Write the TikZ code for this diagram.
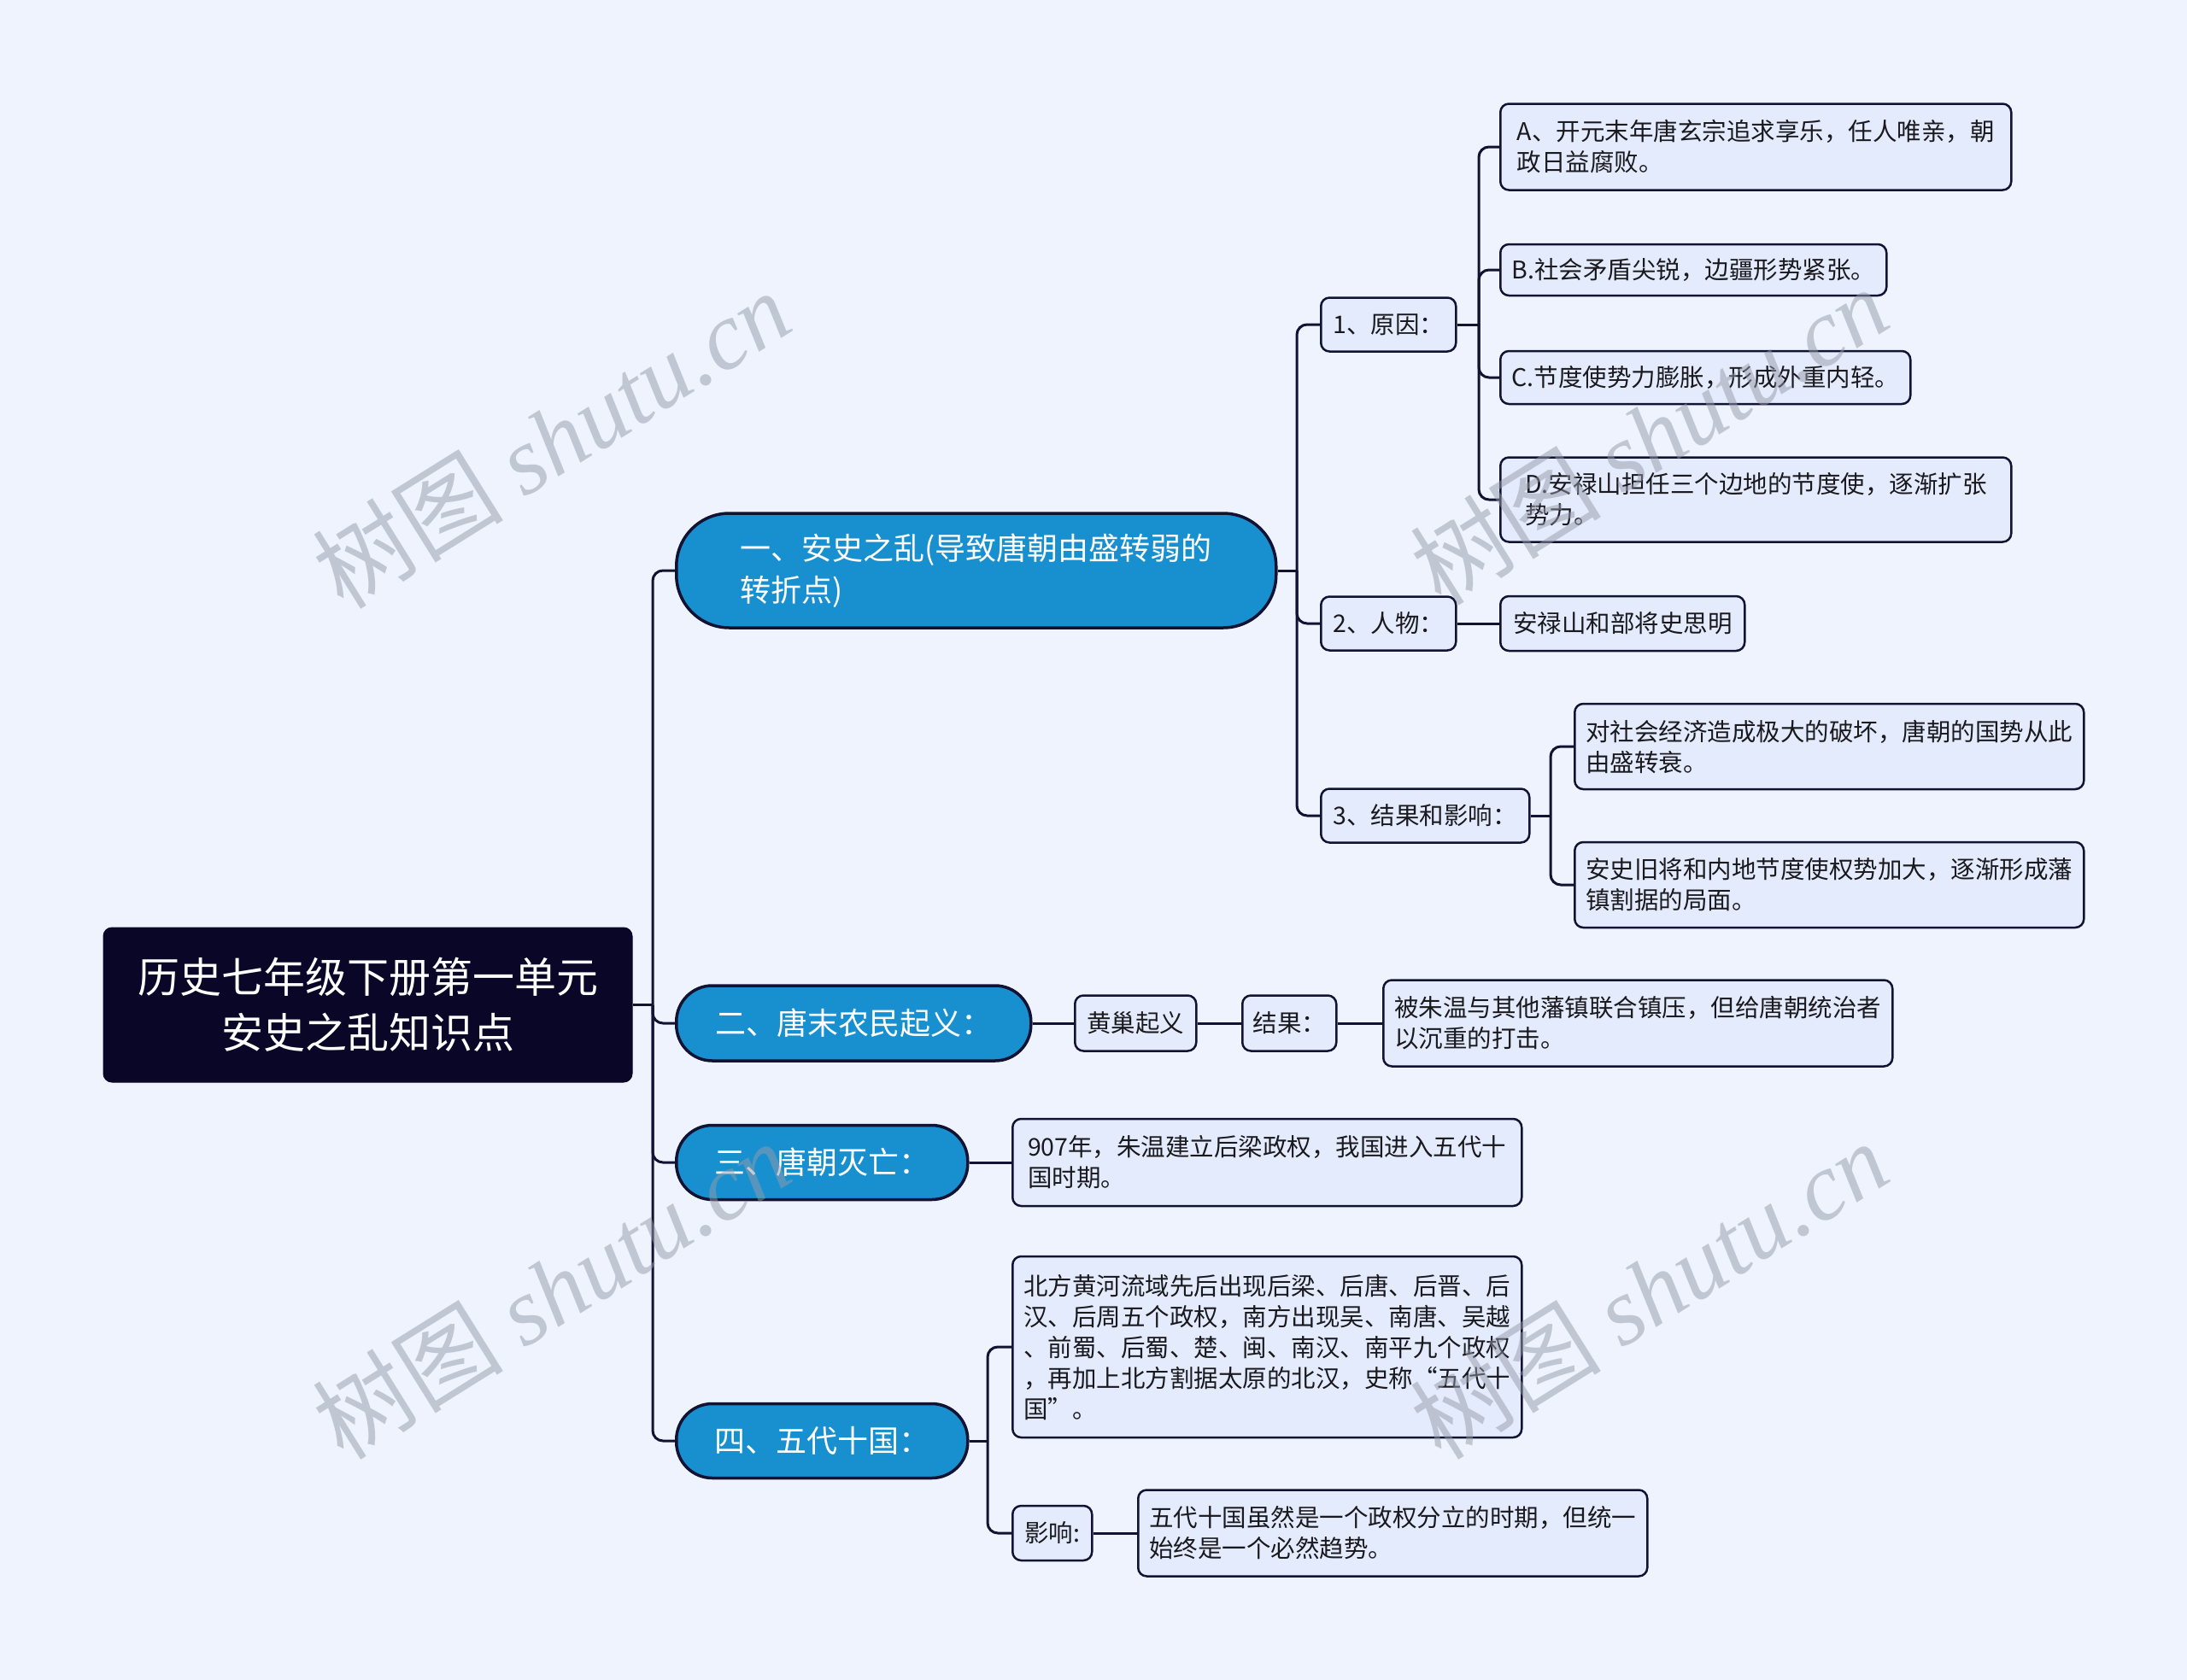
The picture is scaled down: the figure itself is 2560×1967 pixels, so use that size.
\documentclass[tikz,border=0pt]{standalone}
\usepackage{fontspec}
\setmainfont{Noto Sans CJK SC}
\newfontfamily\wmlatin{Liberation Serif}
\definecolor{bgC}{RGB}{238,243,254}
\definecolor{leafC}{RGB}{228,235,252}
\definecolor{blueC}{RGB}{24,144,208}
\definecolor{lineC}{RGB}{18,18,50}
\definecolor{rootC}{RGB}{10,6,40}
\definecolor{textC}{RGB}{25,25,30}
\definecolor{wmC}{RGB}{150,155,170}
\begin{document}
\begin{tikzpicture}[x=1pt,y=-1pt,
  conn/.style={draw=lineC, line width=3pt, rounded corners=12pt},
  leaf/.style={draw=lineC, fill=leafC, line width=2.5pt, rounded corners=10pt, align=left, inner sep=0pt, anchor=west, font=\fontsize{28.5}{36}\selectfont, text=textC},
  pill/.style={draw=lineC, fill=blueC, line width=3.5pt, align=left, inner sep=0pt, anchor=west, font=\fontsize{36}{49}\selectfont, text=white},
  rootbox/.style={fill=rootC, draw=rootC, line width=1pt, rounded corners=10pt, align=center, inner sep=0pt, font=\fontsize{49}{65}\selectfont, text=white},
  wm/.style={text=wmC, opacity=0.5, rotate=32, font=\fontsize{112}{112}\selectfont}
]
\fill[bgC] (0,0) rectangle (2560,1967);
\useasboundingbox (0,0) rectangle (2560,1967);

% root
\node[rootbox, minimum width=619pt, minimum height=181pt] (root) at (430.5,1176.5) {历史七年级下册第一单元\\安史之乱知识点};

% level 1
\node[pill, rounded corners=62pt, minimum width=702pt, minimum height=134pt] (n1) at (790,668) {一、安史之乱(导致唐朝由盛转弱的\\转折点)};
\node[pill, rounded corners=42pt, minimum width=415pt, minimum height=88pt] (n2) at (790,1198) {二、唐末农民起义：};
\node[pill, rounded corners=42pt, minimum width=341pt, minimum height=87pt] (n3) at (790,1361) {三、唐朝灭亡：};
\node[pill, rounded corners=42pt, minimum width=341pt, minimum height=87pt] (n4) at (790,1687) {四、五代十国：};

% level 2 under n1
\node[leaf, minimum width=158pt, minimum height=63pt] (c1) at (1545,380) {1、原因：};
\node[leaf, minimum width=158pt, minimum height=63pt] (c2) at (1545,730) {2、人物：};
\node[leaf, minimum width=244pt, minimum height=63pt] (c3) at (1545,955) {3、结果和影响：};

% causes
\node[leaf, minimum width=598pt, minimum height=101pt] (la) at (1755,172) {A、开元末年唐玄宗追求享乐，任人唯亲，朝\\政日益腐败。};
\node[leaf, minimum width=452pt, minimum height=60pt] (lb) at (1755,316) {B.社会矛盾尖锐，边疆形势紧张。};
\node[leaf, minimum width=480pt, minimum height=62pt] (lc) at (1755,442) {C.节度使势力膨胀，形成外重内轻。};
\node[leaf, minimum width=598pt, minimum height=99pt] (ld) at (1755,585) {D.安禄山担任三个边地的节度使，逐渐扩张\\势力。};

% person
\node[leaf, minimum width=286pt, minimum height=64pt] (lp) at (1755,730) {安禄山和部将史思明};

% results
\node[leaf, minimum width=596pt, minimum height=100pt] (le) at (1842,874) {对社会经济造成极大的破坏，唐朝的国势从此\\由盛转衰。};
\node[leaf, minimum width=596pt, minimum height=100pt] (lf) at (1842,1036) {安史旧将和内地节度使权势加大，逐渐形成藩\\镇割据的局面。};

% n2 chain
\node[leaf, minimum width=142pt, minimum height=65pt] (hc) at (1257,1198) {黄巢起义};
\node[leaf, minimum width=110pt, minimum height=65pt] (jg) at (1453,1198) {结果：};
\node[leaf, minimum width=596pt, minimum height=101pt] (lz) at (1618,1198) {被朱温与其他藩镇联合镇压，但给唐朝统治者\\以沉重的打击。};

% n3 leaf
\node[leaf, minimum width=596pt, minimum height=102pt] (lt) at (1184,1361) {907年，朱温建立后梁政权，我国进入五代十\\国时期。};

% n4 children
\node[leaf, minimum width=596pt, minimum height=212pt] (lg) at (1184,1577) {北方黄河流域先后出现后梁、后唐、后晋、后\\汉、后周五个政权，南方出现吴、南唐、吴越\\、前蜀、后蜀、楚、闽、南汉、南平九个政权\\，再加上北方割据太原的北汉，史称“五代十\\国”。};
\node[leaf, minimum width=93pt, minimum height=64pt] (yx) at (1184,1795) {影响:};
\node[leaf, minimum width=596pt, minimum height=101pt] (li) at (1331,1795) {五代十国虽然是一个政权分立的时期，但统一\\始终是一个必然趋势。};

% junction coordinates
\coordinate (T0) at (764,1176.5);
\coordinate (T1) at (1518,668);
\coordinate (T2) at (1731,380);
\coordinate (T3) at (1815,955);
\coordinate (T4) at (1156,1687);

% connectors
\draw[conn] (root.east) -- (T0);
\draw[conn] (T0) |- (n1.west);
\draw[conn] (T0) |- (n2.west);
\draw[conn] (T0) |- (n3.west);
\draw[conn] (T0) |- (n4.west);

\draw[conn] (n1.east) -- (T1);
\draw[conn] (T1) |- (c1.west);
\draw[conn] (T1) |- (c2.west);
\draw[conn] (T1) |- (c3.west);

\draw[conn] (c1.east) -- (T2);
\draw[conn] (T2) |- (la.west);
\draw[conn] (T2) |- (lb.west);
\draw[conn] (T2) |- (lc.west);
\draw[conn] (T2) |- (ld.west);

\draw[conn] (c2.east) -- (lp.west);

\draw[conn] (c3.east) -- (T3);
\draw[conn] (T3) |- (le.west);
\draw[conn] (T3) |- (lf.west);

\draw[conn] (n2.east) -- (hc.west);
\draw[conn] (hc.east) -- (jg.west);
\draw[conn] (jg.east) -- (lz.west);

\draw[conn] (n3.east) -- (lt.west);

\draw[conn] (n4.east) -- (T4);
\draw[conn] (T4) |- (lg.west);
\draw[conn] (T4) |- (yx.west);
\draw[conn] (yx.east) -- (li.west);

% watermarks
\node[wm] (w1) at (645,514) {树图 {\wmlatin\itshape shutu.cn}};
\node[wm] (w2) at (1930,510) {树图 {\wmlatin\itshape shutu.cn}};
\node[wm] (w3) at (645,1510) {树图 {\wmlatin\itshape shutu.cn}};
\node[wm] (w4) at (1930,1510) {树图 {\wmlatin\itshape shutu.cn}};
\end{tikzpicture}
\end{document}
